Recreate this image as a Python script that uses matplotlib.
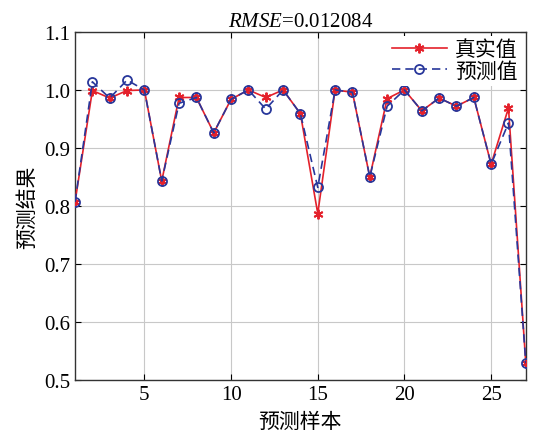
import matplotlib
matplotlib.use('Agg')
import matplotlib.pyplot as plt

plt.rcParams['font.family'] = ['Liberation Serif', 'Noto Sans CJK SC']
plt.rcParams['mathtext.fontset'] = 'custom'
plt.rcParams['mathtext.it'] = 'Liberation Serif:italic'
plt.rcParams['mathtext.rm'] = 'Liberation Serif'

# 样本编号及真实值 / 预测值
samples = list(range(1, 28))
true_vals = [0.807, 0.999, 0.986, 0.999, 1.000, 0.843, 0.987, 0.987, 0.926,
             0.984, 1.000, 0.987, 1.000, 0.959, 0.787, 1.000, 0.996, 0.850,
             0.985, 1.000, 0.964, 0.986, 0.972, 0.987, 0.872, 0.969, 0.529]
pred_vals = [0.807, 1.014, 0.986, 1.017, 1.000, 0.843, 0.977, 0.987, 0.926,
             0.984, 1.000, 0.967, 1.000, 0.959, 0.832, 1.000, 0.996, 0.850,
             0.972, 1.000, 0.964, 0.986, 0.972, 0.987, 0.872, 0.943, 0.529]
rmse_text = '0.012084'

RED = '#e4212b'
BLUE = '#28379b'

fig = plt.figure(figsize=(5.36, 4.39), dpi=100)
ax = fig.add_axes([0.140, 0.132, 0.841, 0.793])

# 星号标记（六叉）
ax.plot(samples, true_vals, '-', color=RED, lw=1.2, marker=(6, 2, 0), ms=7,
        mec=RED, mfc=RED, mew=1.4, label='真实值', zorder=3)
ax.plot(samples, pred_vals, '--', color=BLUE, lw=1.2, dashes=(5, 3),
        marker='o', ms=6.5, mec=BLUE, mfc='none', mew=1.3,
        label='预测值', zorder=4)

ax.set_xlim(1, 27)
ax.set_ylim(0.5, 1.1)
ax.set_xticks([5, 10, 15, 20, 25])
ax.set_yticks([0.5, 0.6, 0.7, 0.8, 0.9, 1.0, 1.1])
ax.set_yticklabels(['0.5', '0.6', '0.7', '0.8', '0.9', '1.0', '1.1'])
ax.grid(True, color='#c8c8c8', lw=0.8)
ax.tick_params(direction='in', top=True, right=True, labelsize=15,
               length=4, width=0.8)
for sp in ax.spines.values():
    sp.set_linewidth(1.0)
    sp.set_color('#333333')

ax.set_title('$RMSE$=' + rmse_text, fontsize=15, pad=4)
ax.set_xlabel('预测样本', fontsize=15, labelpad=6)
ax.set_ylabel('预测结果', fontsize=15, labelpad=4)

leg = ax.legend(loc='upper right', fontsize=15, frameon=True,
                handlelength=2.6, borderaxespad=0.2, borderpad=0.2,
                labelspacing=0.1, handletextpad=0.4)
leg.get_frame().set_edgecolor('none')
leg.get_frame().set_facecolor('white')
leg.get_frame().set_alpha(1.0)

fig.savefig('out.png', dpi=100)
